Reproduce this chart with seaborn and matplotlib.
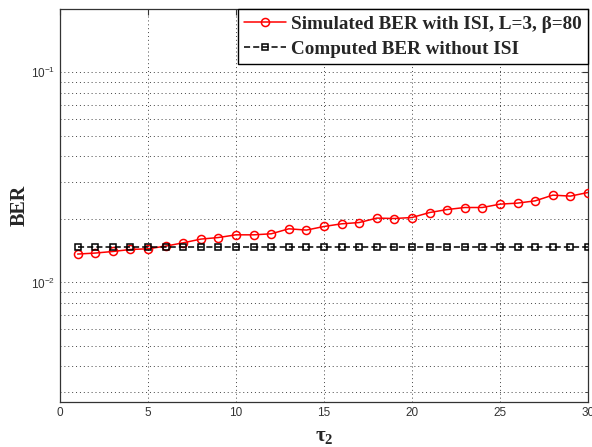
import numpy as np
import pandas as pd
import matplotlib
matplotlib.use("Agg")
import matplotlib.pyplot as plt
import matplotlib.ticker as mticker
from matplotlib.lines import Line2D
import seaborn as sns

tau2 = list(range(1, 31))
ber_isi = [0.01365, 0.0138, 0.01404, 0.01435, 0.01446, 0.01489, 0.01544, 0.01608,
           0.01636, 0.01685, 0.01685, 0.01704, 0.01800, 0.01775, 0.01846, 0.01901,
           0.01928, 0.02024, 0.02015, 0.02037, 0.02151, 0.02223, 0.02273, 0.02273,
           0.02358, 0.02385, 0.02445, 0.02603, 0.02575, 0.02679]
ber_no_isi = [0.0148] * 30
labels = ["Simulated BER with ISI, L=3, \u03b2=80", "Computed BER without ISI"]

sns.set_style("white")
plt.rcParams['font.family'] = ['Liberation Sans', 'DejaVu Sans']
plt.rcParams['mathtext.fontset'] = 'custom'
plt.rcParams['mathtext.rm'] = 'Liberation Sans'
plt.rcParams['mathtext.it'] = 'Liberation Sans'
plt.rcParams['mathtext.default'] = 'regular'

df = pd.DataFrame({"tau": tau2 * 2,
                   "ber": ber_isi + ber_no_isi,
                   "series": [labels[0]] * 30 + [labels[1]] * 30})

fig = plt.figure(figsize=(5.92, 4.47), dpi=100)
ax = fig.add_axes([0.1014, 0.1007, 0.8918, 0.8792])

colors = {labels[0]: "red", labels[1]: "black"}
sns.lineplot(data=df, x="tau", y="ber", hue="series", style="series",
             palette=colors,
             dashes={labels[0]: "", labels[1]: (4, 2)},
             markers={labels[0]: "o", labels[1]: "s"},
             markersize=5.8, markerfacecolor="none", markeredgewidth=1.1,
             linewidth=1.1, ax=ax, legend=False, zorder=3)
lines = ax.get_lines()
lines[0].set_markeredgecolor("red")
lines[1].set_markeredgecolor("black")
lines[1].set_markersize(4.5)

ax.set_yscale("log")
ax.set_xlim(0, 30)
ax.set_ylim(0.0027, 0.2)
ax.xaxis.set_major_locator(mticker.MultipleLocator(5))
ax.yaxis.set_major_locator(mticker.LogLocator(base=10))
ax.yaxis.set_minor_locator(mticker.LogLocator(base=10, subs=np.arange(2, 10)))
ax.yaxis.set_minor_formatter(mticker.NullFormatter())
gstyle = dict(linestyle=(0, (1, 3)), color="#444444", linewidth=0.7)
ax.grid(True, which="major", **gstyle)
ax.grid(True, which="minor", axis="y", **gstyle)
ax.tick_params(which="both", direction="in", top=True, right=True, labelsize=8.5,
               labelcolor="#333333", color="#333333")
ax.tick_params(which="major", length=4)
ax.tick_params(which="minor", length=2)
for s in ax.spines.values():
    s.set_color("#333333")
    s.set_linewidth(0.9)

ax.set_xlabel("\u03c4$_2$", fontsize=15, fontweight="bold", family="Liberation Serif")
ax.set_ylabel("BER", fontsize=14.5, fontweight="bold", family="Liberation Serif")
ax.xaxis.labelpad = 5
ax.yaxis.labelpad = 1

handles = [Line2D([], [], color="red", marker="o", markersize=5.8, markerfacecolor="none",
                  markeredgecolor="red", markeredgewidth=1.1, linewidth=1.1),
           Line2D([], [], color="black", marker="s", markersize=4.5, markerfacecolor="none",
                  markeredgecolor="black", markeredgewidth=1.1, linewidth=1.1,
                  dashes=(4, 2))]
leg = ax.legend(handles, labels, loc="upper right", bbox_to_anchor=(1.0, 1.0), frameon=True,
                fancybox=False, edgecolor="black", borderaxespad=0.0, framealpha=1,
                prop={"family": "Liberation Serif", "weight": "bold", "size": 13.8},
                handlelength=2.2, handletextpad=0.25, borderpad=0.33, labelspacing=0.4)
leg.get_frame().set_linewidth(1.0)

fig.savefig("out.png", dpi=100)
